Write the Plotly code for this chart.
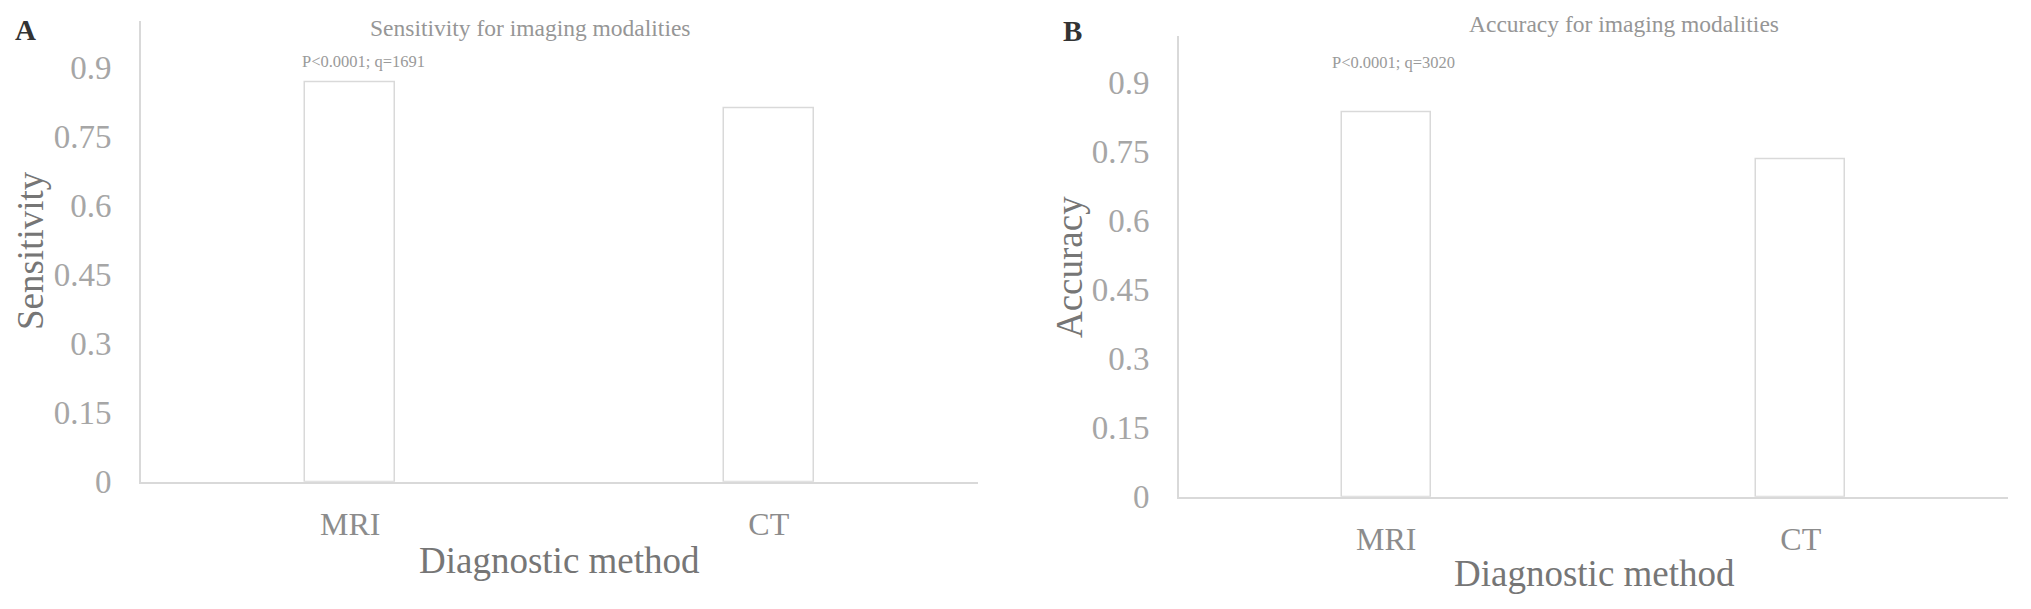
import plotly.graph_objects as go

categories = ["MRI", "CT"]
sensitivity = [0.867, 0.812]
accuracy = [0.834, 0.733]
ytick_vals = [0, 0.15, 0.3, 0.45, 0.6, 0.75, 0.9]
ytick_text = ["0", "0.15", "0.3", "0.45", "0.6", "0.75", "0.9"]
titles = ["Sensitivity for imaging modalities", "Accuracy for imaging modalities"]
ytitles = ["Sensitivity", "Accuracy"]
pvals = ["P<0.0001; q=1691", "P<0.0001; q=3020"]
letters = ["A", "B"]

# page has an 8px default body margin; the photo comes out slightly squeezed vertically
OFF = 8
SY = 609 / 628
W = 2031 - 2 * OFF
H = 628 - 2 * OFF
FONT = "Liberation Serif, Times New Roman, serif"
AXC = "#d9d9d9"

def px(x):
    return (x - OFF) / W

def py(y):
    return 1 - (y / SY - OFF) / H

fig = go.Figure()
fig.add_trace(go.Bar(x=categories, y=sensitivity, width=0.215, xaxis="x", yaxis="y",
                     marker=dict(color="white", line=dict(color=AXC, width=1.5)), showlegend=False))
fig.add_trace(go.Bar(x=categories, y=accuracy, width=0.215, xaxis="x2", yaxis="y2",
                     marker=dict(color="white", line=dict(color=AXC, width=1.5)), showlegend=False))

xax = dict(type="category", range=[-0.5, 1.5], showline=True, linecolor=AXC, linewidth=2,
           showgrid=False, zeroline=False, ticks="", ticklabelstandoff=13,
           tickfont=dict(family=FONT, size=32, color="#8c8c8c"), fixedrange=True)
yax = dict(range=[0, 1.0], tickvals=ytick_vals, ticktext=ytick_text, showline=True, linecolor=AXC,
           linewidth=2, showgrid=False, zeroline=False, ticks="", ticklabelstandoff=21,
           tickfont=dict(family=FONT, size=33, color="#a6a6a6"), fixedrange=True)

fig.update_layout(
    width=W, height=H, margin=dict(l=0, r=0, t=0, b=0),
    paper_bgcolor="white", plot_bgcolor="white", bargap=0,
    xaxis=dict(xax, domain=[px(141), px(978)], anchor="y"),
    yaxis=dict(yax, domain=[py(482), py(21)], anchor="x"),
    xaxis2=dict(xax, domain=[px(1179), px(2008)], anchor="y2"),
    yaxis2=dict(yax, domain=[py(497), py(36)], anchor="x2"),
)

ann = []
for t, cx, cy in zip(titles, [530, 1624], [28, 24]):
    ann.append(dict(text=t, x=px(cx), y=py(cy), xref="paper", yref="paper", showarrow=False,
                    xanchor="center", yanchor="middle", font=dict(family=FONT, size=23.5, color="#969696")))
for t, cx, cy in zip(pvals, [363, 1393], [61, 62]):
    ann.append(dict(text=t, x=px(cx), y=py(cy), xref="paper", yref="paper", showarrow=False,
                    xanchor="center", yanchor="middle", font=dict(family=FONT, size=16.5, color="#9a9a9a")))
for cx, cy in zip([559, 1594], [561, 574]):
    ann.append(dict(text="Diagnostic method", x=px(cx), y=py(cy), xref="paper", yref="paper", showarrow=False,
                    xanchor="center", yanchor="middle", font=dict(family=FONT, size=37, color="#767676")))
for t, cx, cy in zip(ytitles, [30, 1069], [251, 267]):
    ann.append(dict(text=t, x=px(cx), y=py(cy), xref="paper", yref="paper", showarrow=False, textangle=-90,
                    xanchor="center", yanchor="middle", font=dict(family=FONT, size=37, color="#767676")))
for t, cx, cy in zip(letters, [25, 1072], [30, 31]):
    ann.append(dict(text="<b>%s</b>" % t, x=px(cx), y=py(cy), xref="paper", yref="paper", showarrow=False,
                    xanchor="center", yanchor="middle", font=dict(family=FONT, size=29, color="#333333")))
fig.update_layout(annotations=ann)

fig.write_html("out.html", config=dict(displayModeBar=False))
